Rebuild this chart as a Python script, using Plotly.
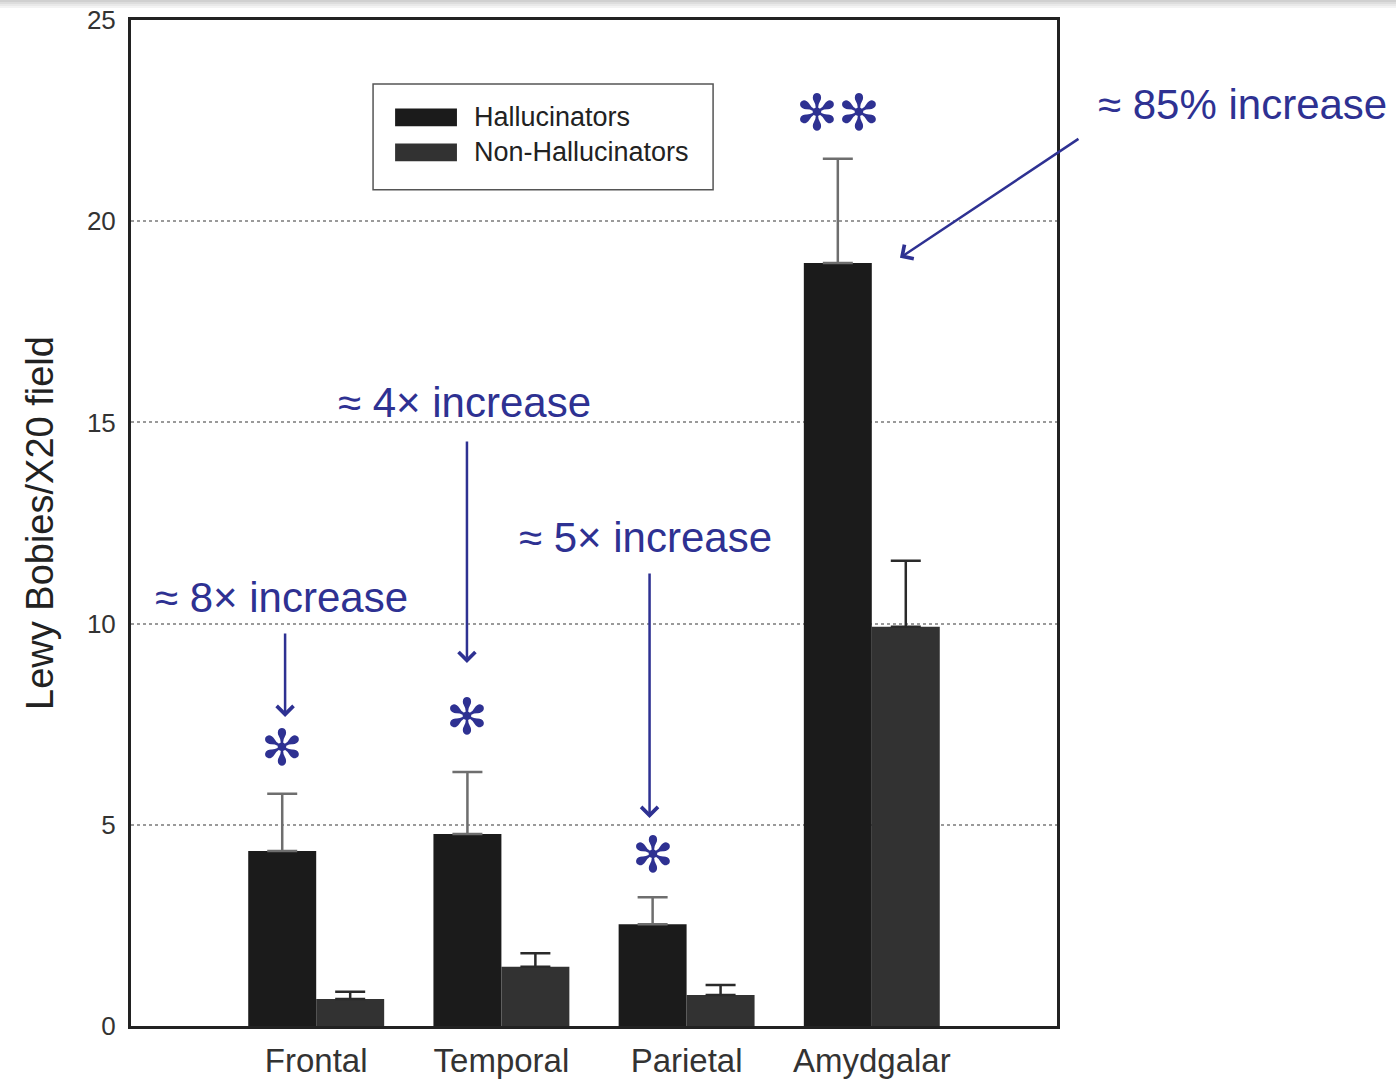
import plotly.graph_objects as go

# Lewy body counts per X20 field by cortical region
regions = ["Frontal", "Temporal", "Parietal", "Amydgalar"]
halluc_mean = [4.35, 4.77, 2.53, 18.96]
halluc_err = [1.42, 1.54, 0.67, 2.59]
nonhalluc_mean = [0.67, 1.47, 0.77, 9.92]
nonhalluc_err = [0.18, 0.34, 0.25, 1.64]

# Fold-change callouts
callout_text = ["≈ 8× increase", "≈ 4× increase", "≈ 5× increase", "≈ 85% increase"]
star_text = ["✻", "✻", "✻", "✻✻"]

positions = [1, 2, 3, 4]
bar_w = 0.367
blue = "#2e3192"
font_main = "Liberation Sans, Arial, sans-serif"

fig = go.Figure()
fig.add_trace(go.Bar(
    x=positions, y=halluc_mean, name="Hallucinators", width=bar_w,
    offset=-bar_w, marker=dict(color="#1b1b1b", line=dict(width=0)),
    error_y=dict(type="data", array=halluc_err, arrayminus=[0] * 4, symmetric=False,
                 color="#6e6e6e", thickness=2.5, width=15),
    showlegend=False,
))
fig.add_trace(go.Bar(
    x=positions, y=nonhalluc_mean, name="Non-Hallucinators", width=bar_w,
    offset=0, marker=dict(color="#323232", line=dict(width=0)),
    error_y=dict(type="data", array=nonhalluc_err, arrayminus=[0] * 4, symmetric=False,
                 color="#2a2a2a", thickness=2.5, width=15),
    showlegend=False,
))

# Hand-drawn legend box with wide swatches
legend_items = [("Hallucinators", "#1b1b1b"), ("Non-Hallucinators", "#323232")]
fig.add_shape(type="rect", xref="x", yref="y", x0=1.307, x1=3.143, y0=20.78, y1=23.41,
              line=dict(color="#555555", width=1.5), fillcolor="white", layer="above")
for i, (label, col) in enumerate(legend_items):
    yc = 22.58 - i * 0.87
    fig.add_shape(type="rect", xref="x", yref="y", x0=1.426, x1=1.76,
                  y0=yc - 0.22, y1=yc + 0.22, line=dict(width=0), fillcolor=col,
                  layer="above")
    fig.add_annotation(x=1.84, y=yc, xref="x", yref="y", text=label, showarrow=False,
                       xanchor="left", yanchor="middle",
                       font=dict(family=font_main, size=27, color="#222222"))

# Significance stars above the hallucinator bars
star_y = [6.91, 7.68, 4.25, 22.69]
for p, s, sy in zip(positions, star_text, star_y):
    fig.add_annotation(x=p - bar_w / 2, y=sy, xref="x", yref="y",
                       text=f"<b>{s}</b>", showarrow=False, xanchor="center",
                       yanchor="middle",
                       font=dict(family="DejaVu Sans", size=50, color=blue))

# Callout labels with arrows (the last label sits in the right margin)
label_xy = [(0.815, 10.64), (1.80, 15.5), (2.78, 12.13)]
for t, (lx, ly) in zip(callout_text[:3], label_xy):
    fig.add_annotation(x=lx, y=ly, xref="x", yref="y", text=t, showarrow=False,
                       xanchor="center", yanchor="middle",
                       font=dict(family=font_main, size=42, color=blue))
fig.add_annotation(x=1.2, y=22.91, xref="paper", yref="y", text=callout_text[3],
                   showarrow=False, xanchor="center", yanchor="middle",
                   font=dict(family=font_main, size=42, color=blue))

arrow_head = [(0.832, 7.68), (1.814, 9.02), (2.80, 5.17), (4.152, 19.09)]
arrow_tail = [(0.832, 9.79), (1.814, 14.56), (2.80, 11.28), (5.124, 22.07)]
for (hx, hy), (tx, ty) in zip(arrow_head, arrow_tail):
    fig.add_annotation(x=hx, y=hy, ax=tx, ay=ty, xref="x", yref="y", axref="x", ayref="y",
                       text="", showarrow=True, arrowhead=4, arrowsize=1.3, arrowwidth=2.5,
                       arrowcolor=blue)

# Soft shadow along the top edge of the page
for k, op in enumerate([0.35, 0.25, 0.16, 0.09]):
    fig.add_shape(type="rect", xref="paper", yref="paper",
                  x0=-0.2, x1=1.5, y0=1 + (20 - 2 * (k + 1)) / 1006, y1=1 + (20 - 2 * k) / 1006,
                  line=dict(width=0), fillcolor=f"rgba(120,120,120,{op})", layer="above")

fig.update_layout(
    width=1396, height=1080,
    margin=dict(l=131, r=339, t=20, b=54),
    paper_bgcolor="white", plot_bgcolor="white",
    barmode="overlay",
    xaxis=dict(range=[0, 5], tickvals=positions, ticktext=regions, ticks="",
               automargin=False,
               showgrid=False, zeroline=False, showline=True, mirror=True,
               linecolor="#222222", linewidth=3, ticklabelstandoff=3,
               tickfont=dict(family=font_main, size=33, color="#333333")),
    yaxis=dict(range=[0, 25], tickvals=[0, 5, 10, 15, 20, 25], ticks="",
               automargin=False,
               showgrid=True, gridcolor="#9a9a9a", griddash="dot", gridwidth=1.5,
               zeroline=False, showline=True, mirror=True,
               linecolor="#222222", linewidth=3, ticklabelstandoff=7,
               tickfont=dict(family=font_main, size=26, color="#333333"),
               title=dict(text="Lewy Bobies/X20 field", standoff=22,
                          font=dict(family=font_main, size=38, color="#222222"))),
)

fig.write_html("out.html")
